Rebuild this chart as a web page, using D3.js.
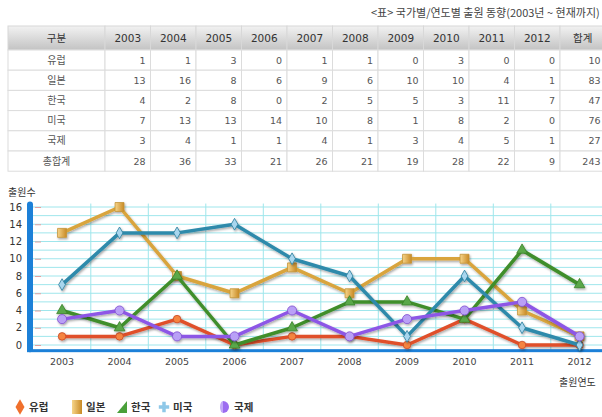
<!DOCTYPE html>
<html>
<head>
<meta charset="utf-8">
<title>출원 동향</title>
<style>
  body { margin: 0; background: #fff; }
  text { font-family: "DejaVu Sans", sans-serif; }
  .ko { font-family: "Noto Sans CJK KR", sans-serif; }
</style>
<script src="https://cdn.jsdelivr.net/npm/d3@7/dist/d3.min.js"></script>
</head>
<body>
<script>
var years = ["2003","2004","2005","2006","2007","2008","2009","2010","2011","2012"];
var countries = ["유럽","일본","한국","미국","국제"];
var europe = [1,1,3,0,1,1,0,3,0,0];
var japan  = [13,16,8,6,9,6,10,10,4,1];
var korea  = [4,2,8,0,2,5,5,3,11,7];
var usa    = [7,13,13,14,10,8,1,8,2,0];
var intl   = [3,4,1,1,4,1,3,4,5,1];
var totalRow = [28,36,33,21,26,21,19,28,22,9];
var rowTotals = [10,83,47,76,27];
var grandTotal = 243;
var yTicks = [0,2,4,6,8,10,12,14,16];

var seriesValues = [europe, japan, korea, usa, intl];
var lineColors = ["#e0502a","#d9a43c","#3f8e2c","#2f8aab","#8d56e6"];
var markFills  = ["#f5843f","#e9ba5c","#5aa84a","#a8d6ee","#b9a0f6"];
var markShapes = [d3.symbolCircle, d3.symbolSquare, d3.symbolTriangle, d3.symbolDiamond, d3.symbolCircle];
var markSizes  = [45, 80, 50, 40, 65];

var W = 602, H = 417;
var svg = d3.select("body").append("svg").attr("width", W).attr("height", H);

var defs = svg.append("defs");
var hg = defs.append("linearGradient").attr("id","hdr").attr("x1",0).attr("y1",0).attr("x2",0).attr("y2",1);
hg.append("stop").attr("offset","0%").attr("stop-color","#f2f2f2");
hg.append("stop").attr("offset","100%").attr("stop-color","#c3c3c3");
var gg = defs.append("linearGradient").attr("id","gold").attr("x1",0).attr("y1",0).attr("x2",1).attr("y2",0);
gg.append("stop").attr("offset","0%").attr("stop-color","#f6d58a");
gg.append("stop").attr("offset","100%").attr("stop-color","#c98a25");
var sh = defs.append("filter").attr("id","shadow").attr("x","-10%").attr("y","-10%").attr("width","130%").attr("height","130%");
sh.append("feDropShadow").attr("dx",1).attr("dy",1.5).attr("stdDeviation",0.8).attr("flood-color","#000").attr("flood-opacity",0.35);

// title
svg.append("text").attr("class","ko")
  .attr("x", 371).attr("y", 17)
  .attr("font-size", 11).attr("fill", "#444")
  .text("<표> 국가별/연도별 출원 동향(2003년 ~ 현재까지)");

// ---- table ----
var cols = ["구분"].concat(years).concat(["합계"]);
var tx = d3.scaleBand().domain(years.concat(["합계"])).range([105, 105 + 11 * 45.5]);
var tableLeft = 8, headTop = 26, headH = 24, rowH = 20.2;
var rows = countries.map(function(c, i) {
  return [c].concat(seriesValues[i]).concat([rowTotals[i]]);
});
rows.push(["총합계"].concat(totalRow).concat([grandTotal]));

var tbl = svg.append("g");
function colX(j) { return j === 0 ? tableLeft : tx(cols[j]); }
function colW(j) { return j === 0 ? 105 - tableLeft : tx.bandwidth(); }

tbl.selectAll(".hcell").data(cols).enter().append("rect")
  .attr("x", function(d, j) { return colX(j); })
  .attr("y", headTop).attr("width", function(d, j) { return colW(j); })
  .attr("height", headH).attr("fill", "url(#hdr)")
  .attr("stroke", "#d8d8d8").attr("stroke-width", 1);
tbl.selectAll(".htext").data(cols).enter().append("text")
  .attr("class", function(d, j) { return (j === 0 || j === cols.length - 1) ? "ko" : null; })
  .attr("x", function(d, j) { return colX(j) + colW(j) / 2; })
  .attr("y", headTop + headH / 2 + 4)
  .attr("text-anchor", "middle").attr("font-size", 10.5).attr("fill", "#333")
  .text(function(d) { return d; });

rows.forEach(function(r, i) {
  var y0 = headTop + headH + i * rowH;
  var g = tbl.append("g");
  g.selectAll("rect").data(r).enter().append("rect")
    .attr("x", function(d, j) { return colX(j); }).attr("y", y0)
    .attr("width", function(d, j) { return colW(j); }).attr("height", rowH)
    .attr("fill", "#fff").attr("stroke", "#dcdcdc");
  g.selectAll("text").data(r).enter().append("text")
    .attr("class", function(d, j) { return j === 0 ? "ko" : null; })
    .attr("x", function(d, j) { return j === 0 ? colX(0) + colW(0) / 2 : colX(j) + colW(j) - 5; })
    .attr("y", y0 + rowH / 2 + 3.5)
    .attr("text-anchor", function(d, j) { return j === 0 ? "middle" : "end"; })
    .attr("font-size", function(d, j) { return j === 0 ? 10 : 9.5; })
    .attr("fill", "#555")
    .text(function(d) { return d; });
});

// ---- line chart ----
var x = d3.scaleBand().domain(years).range([33.3, 33.3 + 10 * 57.5]);
var y = d3.scaleLinear().domain([0, 16]).range([345, 207]);
var cx = function(i) { return x(years[i]) + x.bandwidth() / 2; };
var plotTop = y(16.4), plotBottom = y(-0.6);

svg.append("text").attr("class","ko").attr("x", 8).attr("y", 196)
  .attr("font-size", 10).attr("fill", "#333").text("출원수");

var grid = svg.append("g");
grid.selectAll(".hg").data(d3.range(0, 17)).enter().append("line")
  .attr("x1", 33).attr("x2", W).attr("y1", function(d) { return y(d); }).attr("y2", function(d) { return y(d); })
  .attr("stroke", "#9fe6ec").attr("stroke-width", 1);
grid.selectAll(".vg").data(years.slice(1)).enter().append("line")
  .attr("x1", function(d) { return x(d); }).attr("x2", function(d) { return x(d); })
  .attr("y1", plotTop).attr("y2", plotBottom)
  .attr("stroke", "#9fe6ec").attr("stroke-width", 1);

// y axis
var yAxis = svg.append("g").attr("transform", "translate(24,0)")
  .call(d3.axisLeft(y).tickValues(yTicks).tickSize(0).tickPadding(2));
yAxis.select(".domain").remove();
yAxis.selectAll("text").attr("font-size", 10).attr("fill", "#333").attr("font-family", "DejaVu Sans, sans-serif");
svg.selectAll(".ytk").data(yTicks).enter().append("line")
  .attr("x1", 35).attr("x2", 41).attr("y1", function(d) { return y(d) + 0.5; }).attr("y2", function(d) { return y(d) + 0.5; })
  .attr("stroke", "#e2a0a0").attr("stroke-width", 1);

// blue frame
svg.append("rect").attr("x", 27).attr("y", plotTop - 2).attr("width", 6)
  .attr("height", plotBottom - plotTop + 4).attr("rx", 3).attr("fill", "#1c80d8");
svg.append("rect").attr("x", 27).attr("y", plotBottom - 1).attr("width", W - 27)
  .attr("height", 3).attr("fill", "#1c80d8");

// x axis labels
var xAxis = svg.append("g").attr("transform", "translate(0," + (plotBottom + 3) + ")")
  .call(d3.axisBottom(x).tickSize(0).tickPadding(5));
xAxis.select(".domain").remove();
xAxis.selectAll("text").attr("font-size", 9.5).attr("fill", "#444").attr("font-family", "DejaVu Sans, sans-serif");

svg.append("text").attr("class","ko").attr("x", 559).attr("y", 386)
  .attr("font-size", 10).attr("fill", "#333").text("출원연도");

// series
var line = d3.line().x(function(d, i) { return cx(i); }).y(function(d) { return y(d); });
var series = svg.append("g");
seriesValues.forEach(function(vals, k) {
  var g = series.append("g").attr("filter", "url(#shadow)");
  g.append("path").datum(vals).attr("d", line)
    .attr("fill", "none").attr("stroke", lineColors[k]).attr("stroke-width", 3.5)
    .attr("stroke-linejoin", "round");
  g.selectAll("path.mk").data(vals).enter().append("path").attr("class", "mk")
    .attr("transform", function(d, i) { return "translate(" + cx(i) + "," + y(d) + ")"; })
    .attr("d", d3.symbol().type(markShapes[k]).size(markSizes[k]))
    .attr("fill", k === 1 ? "url(#gold)" : markFills[k])
    .attr("stroke", d3.color(lineColors[k]).darker(0.3)).attr("stroke-width", 0.8);
});

// legend
var legX = [20, 77, 122, 164, 225];
var lg = svg.append("g");
countries.forEach(function(c, k) {
  var gx = legX[k], gy = 407;
  if (k === 0) {
    lg.append("path").attr("transform", "translate(" + gx + "," + gy + ")")
      .attr("d", d3.symbol().type(d3.symbolDiamond).size(70)).attr("fill", "#f0702c");
  } else if (k === 1) {
    lg.append("rect").attr("x", gx - 5).attr("y", gy - 7).attr("width", 10).attr("height", 14)
      .attr("fill", "url(#gold)");
  } else if (k === 2) {
    lg.append("path").attr("d", "M" + (gx - 5) + "," + (gy + 6) + "L" + (gx + 5) + "," + (gy - 6) + "L" + (gx + 5) + "," + (gy + 6) + "Z")
      .attr("fill", "#4aa03a");
  } else if (k === 3) {
    lg.append("path").attr("transform", "translate(" + gx + "," + gy + ")")
      .attr("d", d3.symbol().type(d3.symbolCross).size(60)).attr("fill", "#8ec8e8");
  } else {
    lg.append("path").attr("d", "M" + gx + "," + (gy - 6) + "A6,6 0 0 1 " + gx + "," + (gy + 6) + "Z")
      .attr("transform", "translate(-2,0)").attr("fill", "#9c6cf0");
    lg.append("path").attr("d", "M" + (gx - 2) + "," + (gy - 6) + "A3,6 0 0 0 " + (gx - 2) + "," + (gy + 6) + "Z")
      .attr("fill", "#c2a8f8");
  }
  lg.append("text").attr("class", "ko").attr("x", gx + 9).attr("y", gy + 4)
    .attr("font-size", 10.5).attr("font-weight", "bold").attr("fill", "#333").text(c);
});
</script>
</body>
</html>
